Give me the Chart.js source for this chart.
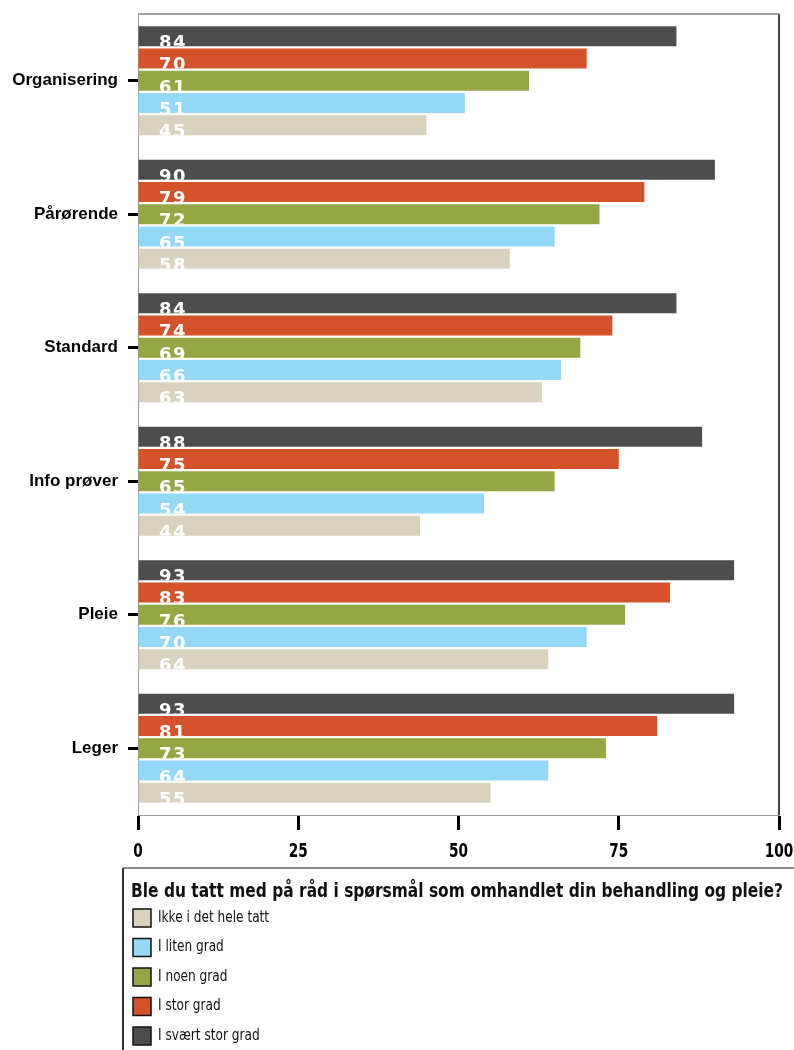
<!DOCTYPE html>
<html lang="no">
<head>
<meta charset="utf-8">
<title>Ble du tatt med på råd</title>
<script src="https://cdn.jsdelivr.net/npm/chart.js@4.4.1/dist/chart.umd.min.js"></script>
<style>
  html, body { margin: 0; padding: 0; background: #fff; }
  #wrap { position: relative; width: 794px; height: 1050px; }
</style>
</head>
<body>
<div id="wrap"><canvas id="chart" width="794" height="1050"></canvas></div>
<script>
// kategorier og svar (prosent)
const categories = ['Organisering', 'Pårørende', 'Standard', 'Info prøver', 'Pleie', 'Leger']
const seriesNames = ['I svært stor grad', 'I stor grad', 'I noen grad', 'I liten grad', 'Ikke i det hele tatt']
const svaertStorGrad = [84, 90, 84, 88, 93, 93]
const storGrad       = [70, 79, 74, 75, 83, 81]
const noenGrad       = [61, 72, 69, 65, 76, 73]
const litenGrad      = [51, 65, 66, 54, 70, 64]
const ikkeIDetHele   = [45, 58, 63, 44, 64, 55]
const xTicks = [0, 25, 50, 75, 100]
const legendTitle = 'Ble du tatt med på råd i spørsmål som omhandlet din behandling og pleie?'

const colors = ['#4d4d4d', '#d4522a', '#95a644', '#94d8f7', '#d8d2bf']
const values = [svaertStorGrad, storGrad, noenGrad, litenGrad, ikkeIDetHele]

const NARROW = '"Liberation Sans Narrow", "DejaVu Sans Condensed", "Arial Narrow", sans-serif'

// tall inni søylene, klippet til søylen
const barLabels = {
  id: 'barLabels',
  afterDatasetsDraw(chart) {
    const ctx = chart.ctx
    const left = chart.chartArea.left
    chart.data.datasets.forEach((ds, i) => {
      const meta = chart.getDatasetMeta(i)
      meta.data.forEach((bar, j) => {
        const p = bar.getProps(['x', 'y', 'base', 'height'], true)
        const top = p.y - p.height / 2
        ctx.save()
        ctx.beginPath()
        ctx.rect(p.base, top, p.x - p.base, p.height)
        ctx.clip()
        ctx.fillStyle = '#fff'
        ctx.font = 'bold 18px "DejaVu Sans", sans-serif'
        ctx.letterSpacing = '1.5px'
        ctx.textBaseline = 'alphabetic'
        ctx.textAlign = 'left'
        ctx.fillText(String(ds.data[j]), left + 21, top + p.height + 2)
        ctx.restore()
      })
    })
  }
}

// smale tall under x-aksen (skalert i bredden)
const xLabels = {
  id: 'xLabels',
  afterDraw(chart) {
    const ctx = chart.ctx
    const sx = chart.scales.x
    const y = sx.bottom - sx.height + 37
    ctx.save()
    ctx.fillStyle = '#000'
    ctx.font = 'bold 19px ' + NARROW
    ctx.textAlign = 'center'
    ctx.textBaseline = 'middle'
    sx.ticks.forEach(t => {
      const px = sx.getPixelForValue(t.value)
      ctx.save()
      ctx.translate(px, y)
      ctx.scale(0.8, 1)
      ctx.fillText(String(t.value), 0, 0)
      ctx.restore()
    })
    ctx.restore()
  }
}

// ramme rundt plottet + forklaring under
const frameAndLegend = {
  id: 'frameAndLegend',
  afterDraw(chart) {
    const ctx = chart.ctx
    const a = chart.chartArea
    ctx.save()
    ctx.lineWidth = 2
    ctx.strokeStyle = '#a0a0a0'
    ctx.beginPath(); ctx.moveTo(a.left, a.top); ctx.lineTo(a.right, a.top); ctx.stroke()
    ctx.strokeStyle = '#444'
    ctx.beginPath(); ctx.moveTo(a.right, a.top); ctx.lineTo(a.right, a.bottom); ctx.stroke()

    // forklaringsboks
    const bx = 123, by = 868
    ctx.lineWidth = 2
    ctx.strokeStyle = '#8a8a8a'
    ctx.beginPath(); ctx.moveTo(bx, by); ctx.lineTo(chart.width, by); ctx.stroke()
    ctx.strokeStyle = '#333'
    ctx.beginPath(); ctx.moveTo(bx, by); ctx.lineTo(bx, chart.height); ctx.stroke()

    ctx.fillStyle = '#111'
    ctx.textBaseline = 'middle'
    ctx.textAlign = 'left'
    ctx.font = 'bold 20px ' + NARROW
    ctx.fillText(legendTitle, 131, 892, 652)

    const items = chart.data.datasets.slice().reverse()
    items.forEach((ds, k) => {
      const cy = 918 + k * 29.5
      ctx.fillStyle = ds.backgroundColor
      ctx.fillRect(133, cy - 9, 18, 18)
      ctx.lineWidth = 1.5
      ctx.strokeStyle = '#111'
      ctx.strokeRect(133, cy - 9, 18, 18)
      ctx.fillStyle = '#111'
      ctx.font = '15px ' + NARROW
      ctx.save()
      ctx.translate(158, cy)
      ctx.scale(0.9, 1)
      ctx.fillText(ds.label, 0, 0)
      ctx.restore()
    })
    ctx.restore()
  }
}

new Chart(document.getElementById('chart'), {
  type: 'bar',
  data: {
    labels: categories,
    datasets: seriesNames.map((name, i) => ({
      label: name,
      data: values[i],
      backgroundColor: colors[i],
      borderWidth: 0,
      categoryPercentage: 0.835,
      barPercentage: 0.9
    }))
  },
  options: {
    indexAxis: 'y',
    responsive: false,
    animation: false,
    layout: { padding: { left: 0, top: 14, right: 15, bottom: 185 } },
    plugins: { legend: { display: false }, tooltip: { enabled: false } },
    scales: {
      x: {
        min: 0, max: 100,
        afterBuildTicks: s => { s.ticks = xTicks.map(v => ({ value: v })) },
        afterFit: s => { s.height = 50; s.paddingLeft = 0; s.paddingRight = 0 },
        border: { display: true, color: '#999', width: 1 },
        grid: { drawOnChartArea: false, drawTicks: true, tickLength: 15, tickWidth: 3, tickColor: '#000' },
        ticks: { display: false }
      },
      y: {
        afterFit: s => { s.width = 138; s.paddingTop = 0; s.paddingBottom = 0 },
        border: { display: true, color: '#999', width: 1 },
        grid: { offset: false, drawOnChartArea: false, drawTicks: true, tickLength: 10, tickWidth: 3, tickColor: '#000' },
        ticks: { color: '#000', padding: 10, font: { family: '"Liberation Sans", Arial, sans-serif', size: 17, weight: 'bold' } }
      }
    }
  },
  plugins: [barLabels, xLabels, frameAndLegend]
})
</script>
</body>
</html>
